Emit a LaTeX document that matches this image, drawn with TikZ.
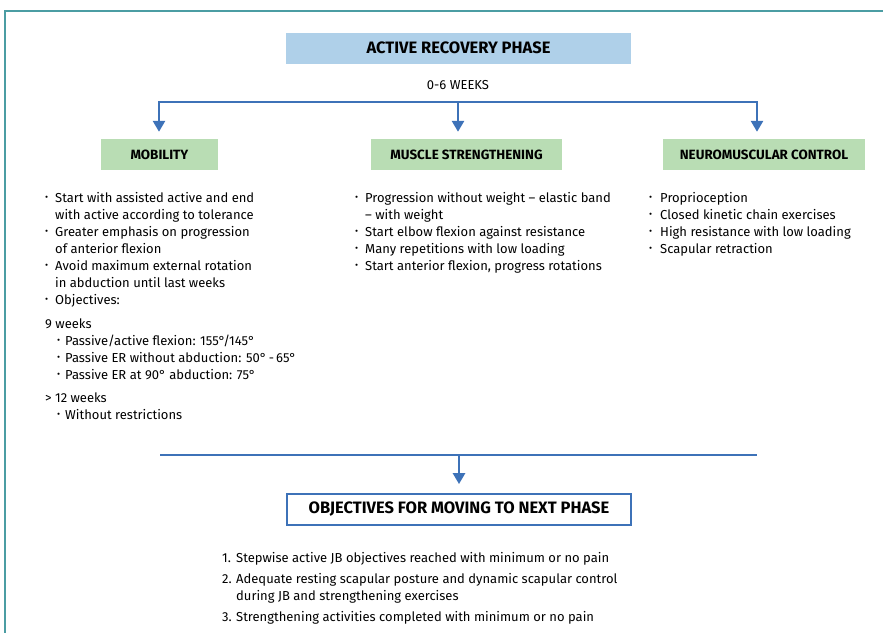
\documentclass[tikz,border=0pt]{standalone}
\usepackage{fontspec}
\setmainfont{Fira Sans}
\usetikzlibrary{arrows.meta,positioning}
\definecolor{cframe}{HTML}{4B9DA3}
\definecolor{cline}{HTML}{3D72B8}
\definecolor{chead}{HTML}{AFD0E9}
\definecolor{carea}{HTML}{B9DDB4}
\newcommand{\bu}{\raisebox{0.2ex}{\fontsize{9.5}{9.5}\selectfont\textbullet}}
\tikzset{
  hbox/.style={inner sep=0pt, minimum height=31pt, font=\fontsize{13.4}{15}\selectfont\bfseries},
  nphase/.style={hbox, fill=chead, font=\fontsize{16.5}{18}\selectfont\bfseries},
  narea/.style={hbox, fill=carea},
  nobj/.style={hbox, fill=white, draw=cline, line width=1.8pt, font=\fontsize{16.5}{18}\selectfont\bfseries},
  ntext/.style={anchor=base west, inner sep=0pt, font=\fontsize{13}{17}\selectfont},
  bar/.style={draw=cline, line width=2.6pt},
  flow/.style={bar, -{Triangle[width=12pt,length=11pt]}},
  fork/.style={bar, {Triangle[width=12pt,length=11pt]}-{Triangle[width=12pt,length=11pt]}},
}
\begin{document}
\begin{tikzpicture}[x=1pt, y=-1pt]
  \useasboundingbox (0,0) rectangle (883,632);
  \draw[cframe, line width=2.5pt] (5,650) -- (5,11) -- (900,11);
  % headings
  \node[nphase, minimum width=345pt] (phase) at (458.5,48) {ACTIVE RECOVERY PHASE};
  \node[ntext, anchor=center] (weeks) at (458,85.5) {0-6 WEEKS};
  \node[narea, minimum width=117pt] (mob) at (159.5,154.5) {MOBILITY};
  \node[narea, minimum width=191pt] (mus) at (466.5,154.5) {MUSCLE STRENGTHENING};
  \node[narea, minimum width=202pt] (neu) at (764,154.5) {NEUROMUSCULAR CONTROL};
  % fork to the three areas
  \coordinate (barL) at (159,102);
  \coordinate (barM) at (458,102);
  \coordinate (barR) at (757,102);
  \draw[fork, shorten <=7pt, shorten >=7pt] (barL |- mob.north) -- (barL) -- (barR) -- (barR |- neu.north);
  \draw[flow, shorten >=7pt] (barM) -- (barM |- mus.north);
  % lists
  \node[ntext] (tmob) at (45,202) {\begin{tabular}[t]{@{}p{10pt}@{}l@{}}
    \bu & Start with assisted active and end\\
        & with active according to tolerance\\
    \bu & Greater emphasis on progression\\
        & of anterior flexion\\
    \bu & Avoid maximum external rotation\\
        & in abduction until last weeks\\
    \bu & Objectives:\\[7pt]
    \multicolumn{2}{@{}l@{}}{9 weeks}\\
    \multicolumn{2}{@{}l@{}}{\hspace{12pt}\makebox[8pt][l]{\bu}Passive/active flexion: 155°/145°}\\
    \multicolumn{2}{@{}l@{}}{\hspace{12pt}\makebox[8pt][l]{\bu}Passive ER without abduction: 50°\,-\,65°}\\
    \multicolumn{2}{@{}l@{}}{\hspace{12pt}\makebox[8pt][l]{\bu}Passive ER at 90° abduction: 75°}\\[6pt]
    \multicolumn{2}{@{}l@{}}{> 12 weeks}\\
    \multicolumn{2}{@{}l@{}}{\hspace{12pt}\makebox[8pt][l]{\bu}Without restrictions}
  \end{tabular}};
  \node[ntext] (tmus) at (355,202) {\begin{tabular}[t]{@{}p{10pt}@{}l@{}}
    \bu & Progression without weight -- elastic band\\
        & -- with weight\\
    \bu & Start elbow flexion against resistance\\
    \bu & Many repetitions with low loading\\
    \bu & Start anterior flexion, progress rotations
  \end{tabular}};
  \node[ntext] (tneu) at (649,202) {\begin{tabular}[t]{@{}p{11pt}@{}l@{}}
    \bu & Proprioception\\
    \bu & Closed kinetic chain exercises\\
    \bu & High resistance with low loading\\
    \bu & Scapular retraction
  \end{tabular}};
  % towards the next phase
  \coordinate (lowL) at (160,455);
  \coordinate (lowM) at (459,455);
  \coordinate (lowR) at (757,455);
  \node[nobj, minimum width=344pt] (obj) at (459,509.5) {OBJECTIVES FOR MOVING TO NEXT PHASE};
  \draw[bar] (lowL) -- (lowR);
  \draw[flow, shorten >=9pt] (lowM) -- (obj);
  \node[ntext] (tobj) at (222,562) {\begin{tabular}[t]{@{}p{14pt}@{}l@{}}
    1. & Stepwise active JB objectives reached with minimum or no pain\\[4pt]
    2. & Adequate resting scapular posture and dynamic scapular control\\
       & during JB and strengthening exercises\\[4pt]
    3. & Strengthening activities completed with minimum or no pain
  \end{tabular}};
\end{tikzpicture}
\end{document}
